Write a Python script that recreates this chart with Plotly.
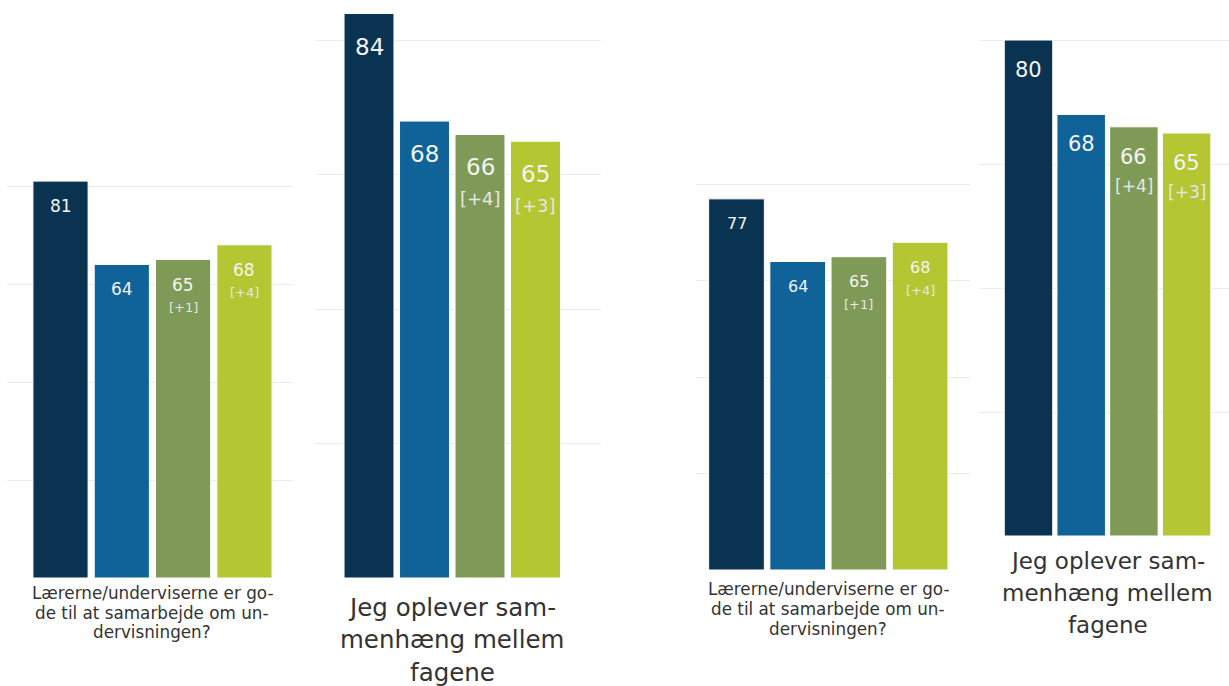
import plotly.graph_objects as go

# ---- data ----
series_names = ["Serie 1", "Serie 2", "Serie 3", "Serie 4"]
colors = ["#0a3352", "#0f6399", "#7e9a56", "#b4c632"]

q1_label = ["Lærerne/underviserne er go-", "de til at samarbejde om un-", "dervisningen?"]
q2_label = ["Jeg oplever sam-", "menhæng mellem", "fagene"]

p1_values = [81, 64, 65, 68]
p1_changes = ["", "", "+1", "+4"]
p2_values = [84, 68, 66, 65]
p2_changes = ["", "", "+4", "+3"]
p3_values = [77, 64, 65, 68]
p3_changes = ["", "", "+1", "+4"]
p4_values = [80, 68, 66, 65]
p4_changes = ["", "", "+4", "+3"]

grid_vals = [0, 20, 40, 60, 80]

# ---- panel styles (pixel geometry of the collage) ----
W, H = 1229, 686
panels = [
    dict(values=p1_values, changes=p1_changes, label=q1_label,
         L=7, R=293, c0=60.5, s=61.3, zero=578, k=4.9, w=0.9,
         vf=17, bf=13, voff=25, bgap=23, lf=16.8, loff=15, lgap=19.5),
    dict(values=p2_values, changes=p2_changes, label=q2_label,
         L=316, R=601, c0=369, s=55.5, zero=578, k=6.72, w=0.9,
         vf=23, bf=18, voff=33, bgap=31, lf=24.5, loff=29, lgap=32.5),
    dict(values=p3_values, changes=p3_changes, label=q1_label,
         L=696, R=970, c0=736.5, s=61.2, zero=570, k=4.82, w=0.91,
         vf=16, bf=13, voff=25, bgap=23, lf=16.8, loff=19, lgap=20),
    dict(values=p4_values, changes=p4_changes, label=q2_label,
         L=980, R=1229, c0=1028.5, s=52.7, zero=536, k=6.2, w=0.92,
         vf=21, bf=17, voff=30, bgap=29, lf=23, loff=25, lgap=32),
]

FONT = "DejaVu Sans"
fig = go.Figure()
annotations = []
layout_axes = {}

for pi, p in enumerate(panels):
    n = "" if pi == 0 else str(pi + 1)
    xa, ya = "x" + n, "y" + n
    for i, (name, v) in enumerate(zip(series_names, p["values"])):
        fig.add_trace(go.Bar(
            x=[i], y=[v], name=name, width=p["w"],
            marker=dict(color=colors[i], line=dict(color="white", width=1)),
            xaxis=xa, yaxis=ya, showlegend=False, hoverinfo="skip",
        ))
        annotations.append(dict(
            x=i, y=v, xref=xa, yref=ya, text=str(v), showarrow=False,
            yanchor="middle", yshift=-p["voff"],
            font=dict(family=FONT, size=p["vf"], color="#f4f4f4"),
        ))
        if p["changes"][i]:
            annotations.append(dict(
                x=i, y=v, xref=xa, yref=ya, text="[" + p["changes"][i] + "]",
                showarrow=False, yanchor="middle",
                yshift=-p["voff"] - p["bgap"],
                font=dict(family=FONT, size=p["bf"], color="#e6e6e6"),
            ))
    for li, line in enumerate(p["label"]):
        annotations.append(dict(
            x=1.5, y=0, xref=xa, yref=ya, text=line, showarrow=False,
            yanchor="middle", yshift=-p["loff"] - li * p["lgap"],
            font=dict(family=FONT, size=p["lf"], color="#333333"),
        ))
    xr = [(p["L"] - p["c0"]) / p["s"], (p["R"] - p["c0"]) / p["s"]]
    layout_axes["xaxis" + n] = dict(
        domain=[p["L"] / W, p["R"] / W], range=xr, showgrid=False,
        zeroline=False, showticklabels=False, ticks="", fixedrange=True,
        anchor=ya,
    )
    layout_axes["yaxis" + n] = dict(
        domain=[1 - p["zero"] / H, 1], range=[0, p["zero"] / p["k"]],
        tickvals=grid_vals, showticklabels=False, ticks="",
        showgrid=True, gridcolor="#ebebe3", gridwidth=1,
        zeroline=False, fixedrange=True, anchor=xa,
    )

fig.update_layout(
    width=W, height=H, margin=dict(l=0, r=0, t=0, b=0),
    paper_bgcolor="white", plot_bgcolor="white",
    showlegend=False, annotations=annotations, barmode="group",
    **layout_axes,
)

fig.write_html(
    "out.html",
    config={"displayModeBar": False},
    post_script="document.body.style.margin='0';document.body.style.overflow='hidden';",
)
